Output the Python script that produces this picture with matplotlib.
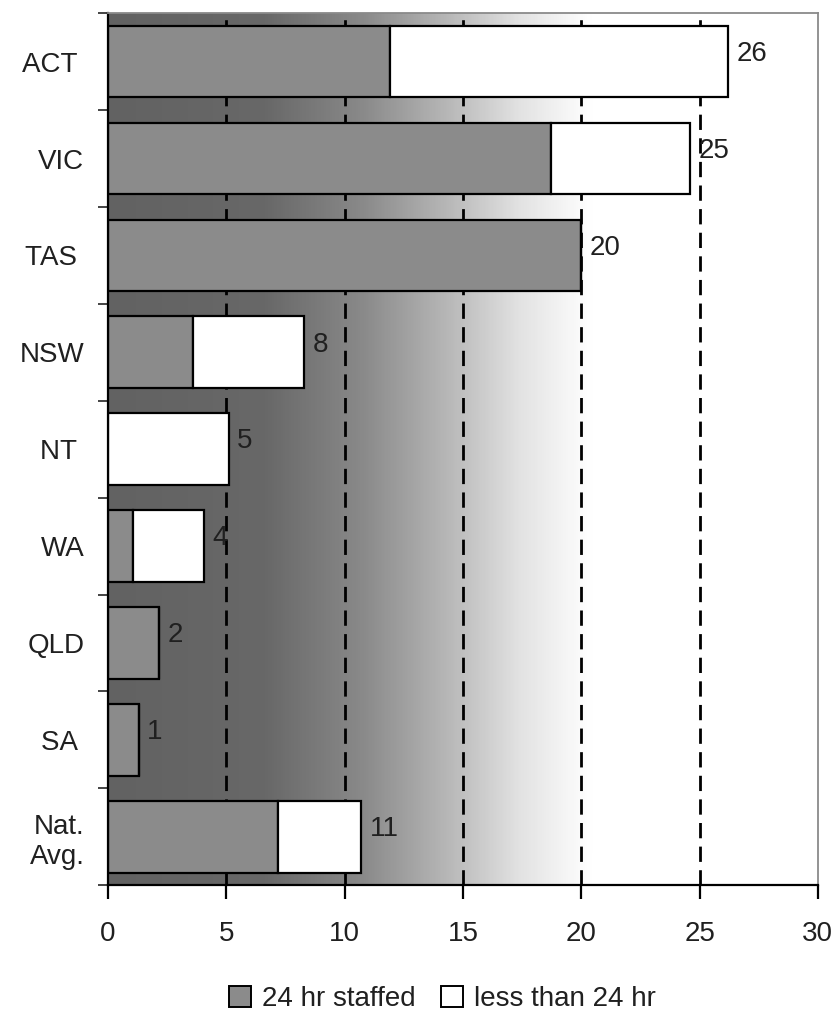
import numpy as np
import matplotlib
matplotlib.use("Agg")
import matplotlib.pyplot as plt
from matplotlib.colors import LinearSegmentedColormap
from matplotlib.patches import Patch

plt.rcParams['font.family'] = ['Liberation Sans', 'DejaVu Sans']

states = ['ACT ', 'VIC', 'TAS ', 'NSW', 'NT ', 'WA', 'QLD', 'SA ', 'Nat.\nAvg.']
staffed_24hr = [11.9, 18.7, 20.0, 3.6, 0.0, 1.05, 2.15, 1.3, 7.2]
less_than_24hr = [14.3, 5.9, 0.0, 4.7, 5.1, 3.0, 0.0, 0.0, 3.5]
x_ticks = [0, 5, 10, 15, 20, 25, 30]

totals = [a + b for a, b in zip(staffed_24hr, less_than_24hr)]

fig = plt.figure(figsize=(8.38, 10.14), dpi=100)
ax = fig.add_axes([0.129, 0.127, 0.847, 0.860])

y = np.arange(len(states))
ax.set_xlim(0, 30)
ax.set_ylim(len(states) - 0.5, -0.5)

# grey-to-white backdrop behind the bars
bg = LinearSegmentedColormap.from_list('bg', [
    (0.0, '#626262'), (0.22, '#686868'), (0.36, '#8a8a8a'),
    (0.48, '#b8b8b8'), (0.58, '#e2e2e2'), (0.68, '#ffffff'), (1.0, '#ffffff')])
ax.imshow(np.linspace(0, 1, 600).reshape(1, -1), cmap=bg, aspect='auto',
          extent=[0, 30, len(states) - 0.5, -0.5], zorder=0, interpolation='bicubic')

for xv in x_ticks[1:-1]:
    ax.axvline(xv, color='black', lw=2.0, ls=(0, (5.5, 3)), zorder=1)

h = 0.74
ax.barh(y, staffed_24hr, height=h, color='#8b8b8b', edgecolor='black',
        linewidth=1.6, zorder=2, label='24 hr staffed')
ax.barh(y, less_than_24hr, left=staffed_24hr, height=h, color='white',
        edgecolor='black', linewidth=1.6, zorder=2, label='less than 24 hr')

for yi, t in zip(y, totals):
    ax.text(t + 0.35, yi - 0.08, f'{round(t)}', va='center', ha='left',
            fontsize=20, color='#202020', zorder=3)

ax.set_xticks(x_ticks)
ax.set_xticklabels([str(v) for v in x_ticks], fontsize=20, color='#202020')
ax.tick_params(axis='x', length=10, width=1.6, color='black', pad=16)

ax.set_yticks(y)
ax.set_yticklabels(states, fontsize=20, color='#202020', ha='right')
ax.set_yticks(np.arange(len(states) + 1) - 0.5, minor=True)
ax.tick_params(axis='y', which='major', length=0, pad=17)
ax.tick_params(axis='y', which='minor', length=7, width=1.4, color='#444444')

ax.spines['left'].set_linewidth(1.6)
ax.spines['bottom'].set_linewidth(1.6)
for s in ('top', 'right'):
    ax.spines[s].set_color('#8a8a8a')
    ax.spines[s].set_linewidth(1.3)

handles = [Patch(facecolor='#8b8b8b', edgecolor='black', linewidth=1.4, label='24 hr staffed'),
           Patch(facecolor='white', edgecolor='black', linewidth=1.4, label='less than 24 hr')]
fig.legend(handles=handles, loc='center', bbox_to_anchor=(0.528, 0.015), ncol=2,
           frameon=False, fontsize=20, handlelength=0.8, handleheight=0.8,
           handletextpad=0.4, columnspacing=0.9, labelcolor='#202020')

fig.savefig('out.png', dpi=100)
